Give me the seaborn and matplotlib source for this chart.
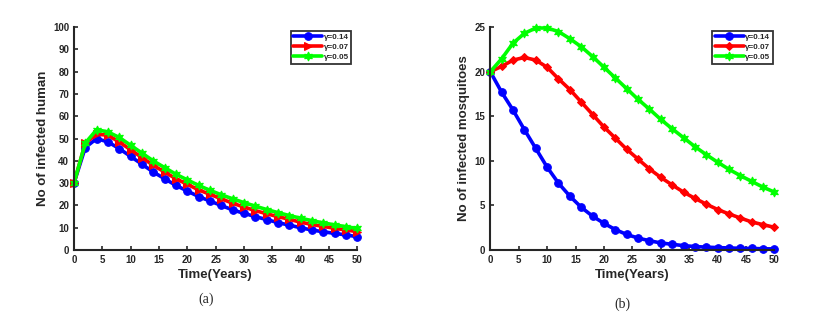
import numpy as np
import pandas as pd
import matplotlib
matplotlib.use("Agg")
import matplotlib.pyplot as plt
import seaborn as sns

t = list(range(0, 51, 2))

# (a) infected humans
human_014 = [30, 46, 50, 48.5, 45.5, 42, 38.5, 35, 32, 29, 26.5, 24, 22, 20, 18,
             16.5, 15, 13.7, 12.3, 11.2, 10, 9, 8.2, 7.5, 6.8, 6]
human_007 = [30, 48, 52, 51.5, 48.5, 45, 41.5, 38, 35, 32, 29.5, 27, 25, 23, 21,
             19.3, 17.7, 16.3, 15, 13.8, 12.5, 11.5, 10.6, 9.8, 9, 8.3]
human_005 = [30, 48, 54, 53, 50.5, 47, 43.5, 40, 37, 34, 31.5, 29, 26.8, 24.8, 23,
             21.3, 19.7, 18.2, 16.8, 15.5, 14.3, 13.2, 12.2, 11.3, 10.5, 9.7]

# (b) infected mosquitoes
mosq_014 = [20, 17.7, 15.7, 13.5, 11.4, 9.3, 7.5, 6.05, 4.8, 3.8, 3.0, 2.3, 1.75,
            1.35, 1.05, 0.8, 0.65, 0.5, 0.4, 0.33, 0.28, 0.24, 0.2, 0.18, 0.15, 0.13]
mosq_007 = [20, 20.6, 21.3, 21.6, 21.3, 20.5, 19.2, 18.0, 16.6, 15.2, 13.8, 12.55,
            11.3, 10.2, 9.1, 8.15, 7.3, 6.5, 5.8, 5.15, 4.55, 4.05, 3.6, 3.15, 2.85, 2.55]
mosq_005 = [20, 21.45, 23.2, 24.3, 24.9, 24.9, 24.5, 23.7, 22.8, 21.7, 20.5, 19.3,
            18.1, 16.9, 15.8, 14.65, 13.6, 12.6, 11.6, 10.7, 9.85, 9.05, 8.35, 7.7, 7.05, 6.5]

labels = ["γ=0.14", "γ=0.07", "γ=0.05"]
colors = ["#0000FF", "#FF0000", "#00FF00"]

sns.set_style("ticks")
plt.rcParams["font.family"] = ["Liberation Sans", "DejaVu Sans"]
plt.rcParams["font.weight"] = "bold"

hexagram = (6, 1, 0)

fig = plt.figure(figsize=(8.31, 3.19), dpi=100)
ax1 = fig.add_axes([0.089, 0.216, 0.341, 0.699])
ax2 = fig.add_axes([0.590, 0.216, 0.342, 0.699])

panels = [
    (ax1, [human_014, human_007, human_005], ["o", ">", hexagram], [5.5, 5.5, 6.5],
     "No of infected human", 100, 10, (0.985, 0.99)),
    (ax2, [mosq_014, mosq_007, mosq_005], ["o", "D", hexagram], [5.5, 4.5, 6.5],
     "No of infected mosquitoes", 25, 5, (1.0, 0.99)),
]

for ax, series, markers, sizes, ylab, ymax, ystep, loc in panels:
    for vals, lab, col, mk, ms in zip(series, labels, colors, markers, sizes):
        df = pd.DataFrame({"t": t, "v": vals})
        sns.lineplot(data=df, x="t", y="v", ax=ax, color=col, lw=2.6,
                     marker=mk, markersize=ms, markeredgecolor=col,
                     label=lab, clip_on=False)
    ax.set_xlim(0, 50)
    ax.set_ylim(0, ymax)
    ax.set_xticks(range(0, 51, 5))
    ax.set_yticks(range(0, ymax + 1, ystep))
    ax.tick_params(direction="in", length=3, width=1.2, labelsize=7)
    for s in ["left", "bottom"]:
        ax.spines[s].set_linewidth(1.5)
        ax.spines[s].set_color("#262626")
    sns.despine(ax=ax)
    ax.set_xlabel("Time(Years)", fontsize=9.5, fontweight="bold", labelpad=3)
    ax.set_ylabel(ylab, fontsize=9.5, fontweight="bold", labelpad=3)
    leg = ax.legend(loc="upper right", bbox_to_anchor=loc, fontsize=5.8,
                    frameon=True, fancybox=False, handlelength=3.6,
                    borderpad=0.3, labelspacing=0.3, handletextpad=0.2,
                    borderaxespad=0.2)
    leg.get_frame().set_edgecolor("black")
    leg.get_frame().set_linewidth(1.3)

fig.text(0.248, 0.05, "(a)", fontsize=10, family="Liberation Serif",
         fontweight="normal", ha="center")
fig.text(0.749, 0.035, "(b)", fontsize=10, family="Liberation Serif",
         fontweight="normal", ha="center")

fig.savefig("out.png", dpi=100)
